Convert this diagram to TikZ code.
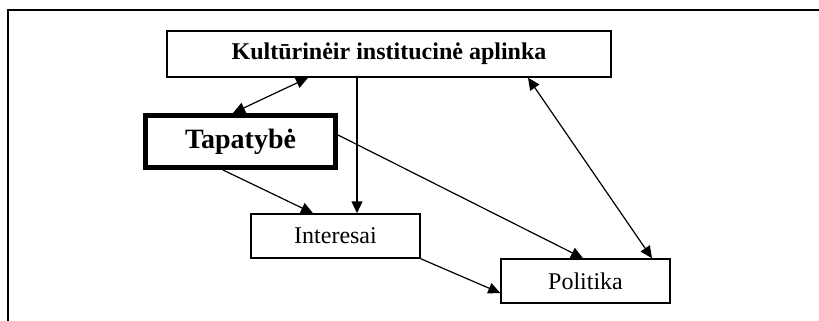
\documentclass[tikz,border=0pt]{standalone}
\usepackage{fontspec}
\setmainfont{Liberation Serif}
\usetikzlibrary{arrows.meta}
\begin{document}
\begin{tikzpicture}[
    x=0.5pt, y=-0.5pt,
    lpBox/.style={rectangle, draw=black, line width=0.75pt, fill=white, inner sep=0pt, font=\fontsize{12}{14}\selectfont},
    lpEdge/.style={line width=0.6pt, -{Triangle[length=6pt,width=5.5pt]}},
    lpBiEdge/.style={line width=0.6pt, {Triangle[length=6pt,width=5.5pt]}-{Triangle[length=6pt,width=5.5pt]}}
]
\useasboundingbox (0,0) rectangle (819,321);
% outer frame (top and left side only)
\draw[line width=1pt] (8,321) -- (8,10) -- (819,10);

% boxes
\node[lpBox, minimum width=222pt, minimum height=23pt, font=\fontsize{12}{14}\selectfont\bfseries] (kult) at (389,54) {Kultūrinėir institucinė aplinka};
\node[lpBox, line width=2.5pt, minimum width=95pt, minimum height=26pt, font=\fontsize{14}{17}\selectfont\bfseries] (tap) at (240.5,141.5) {Tapatybė};
\node[lpBox, minimum width=84.5pt, minimum height=22pt] (int) at (335.5,236) {Interesai};
\node[lpBox, minimum width=84.5pt, minimum height=22pt] (pol) at (585.5,281) {Politika};

% connectors
\draw[lpBiEdge] ([xshift=-3.75pt]tap.north) -- ([xshift=-40.5pt]kult.south);
\draw[lpEdge] ([xshift=-16pt]kult.south) coordinate (kultv) -- (kultv |- int.north);
\draw[lpEdge] ([xshift=-8.75pt]tap.south) -- ([xshift=-11.25pt]int.north);
\draw[lpEdge] ([yshift=3.25pt]tap.east) -- ([xshift=-1.25pt]pol.north);
\draw[lpBiEdge] ([xshift=69.5pt]kult.south) -- ([xshift=33.25pt]pol.north);
\draw[lpEdge] (int.south east) -- ([yshift=-6pt]pol.west);
\end{tikzpicture}
\end{document}
